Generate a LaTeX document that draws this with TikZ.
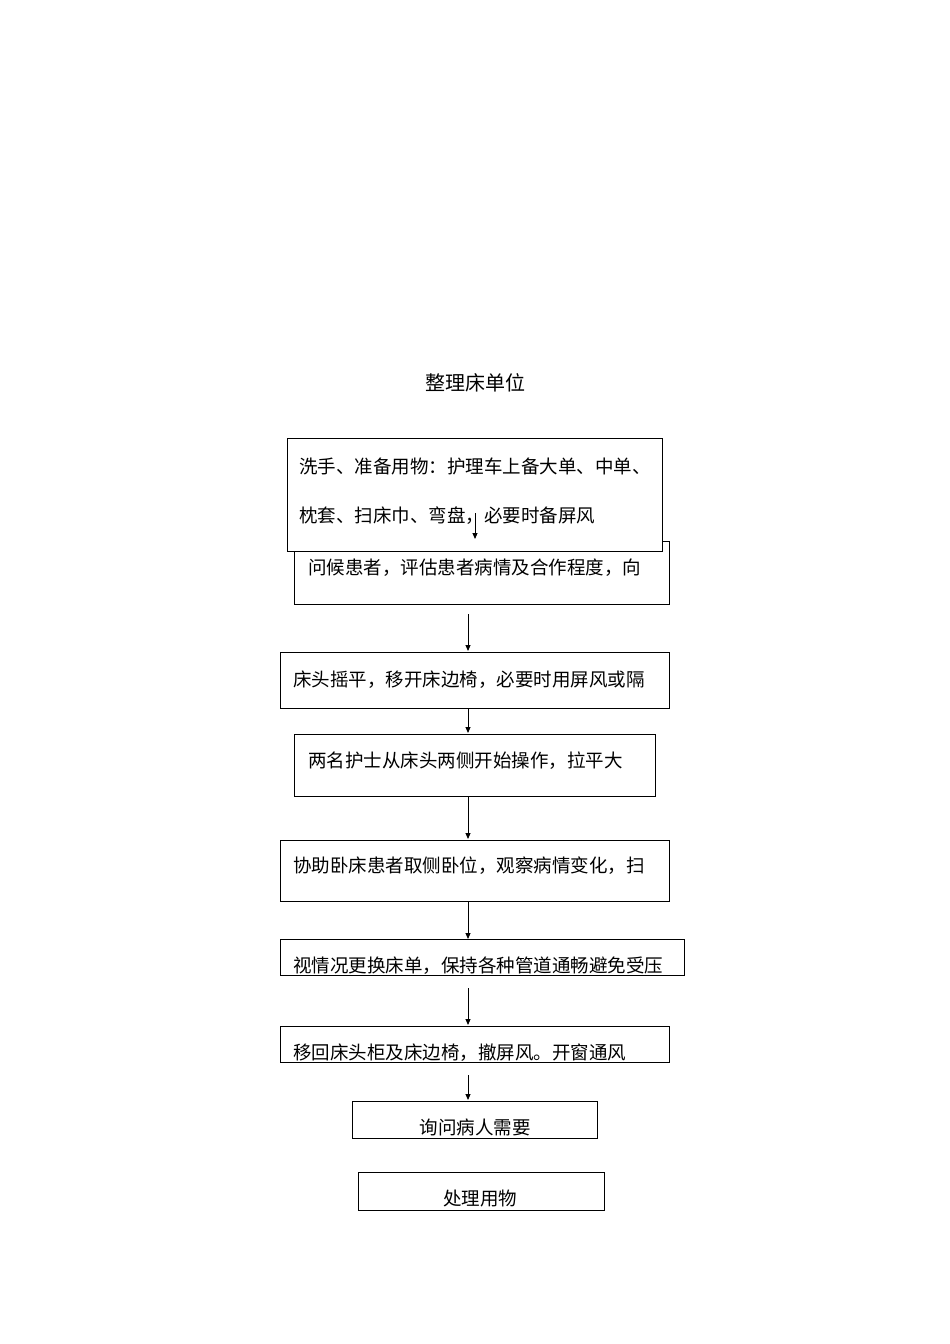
\documentclass[tikz,border=0pt]{standalone}
\usepackage{fontspec}
\newfontfamily\cjk{Noto Sans CJK SC}
\usetikzlibrary{arrows.meta}
\begin{document}
\begin{tikzpicture}[x=1pt,y=-1pt,
  bx/.style={draw,line width=0.8pt,fill=white},
  tx/.style={font=\cjk\fontsize{18.5}{20}\selectfont,anchor=west,inner sep=0},
  ar/.style={-{Triangle[length=6pt,width=5pt]},line width=0.9pt}]
\useasboundingbox (0,0) rectangle (950,1344);
\node[font=\cjk\fontsize{20}{22}\selectfont] (title) at (475,383) {整理床单位};
\draw[bx] (294,541) rectangle (669,604);
\node[tx] (t2) at (308,568) {问候患者，评估患者病情及合作程度，向};
\draw[bx] (287,438) rectangle (662,551);
\node[tx] (t1a) at (299,466) {洗手、准备用物：护理车上备大单、中单、};
\node[tx] (t1b) at (299,516) {枕套、扫床巾、弯盘，必要时备屏风};
\coordinate (a1) at (475,513); \coordinate (a1e) at (475,539);
\draw[ar] (a1) -- (a1e);
\draw[bx] (280,652) rectangle (669,708);
\node[tx] (t3) at (293,680) {床头摇平，移开床边椅，必要时用屏风或隔};
\draw[bx] (294,734) rectangle (655,796);
\node[tx] (t4) at (308,761) {两名护士从床头两侧开始操作，拉平大};
\draw[bx] (280,840) rectangle (669,901);
\node[tx] (t5) at (293,866) {协助卧床患者取侧卧位，观察病情变化，扫};
\draw[bx] (280,939) rectangle (684,975);
\node[tx] (t6) at (293,966) {视情况更换床单，保持各种管道通畅避免受压};
\draw[bx] (280,1026) rectangle (669,1062);
\node[tx] (t7) at (293,1053) {移回床头柜及床边椅，撤屏风。开窗通风};
\draw[bx] (352,1101) rectangle (597,1138);
\node[tx,anchor=center] (t8) at (475,1127) {询问病人需要};
\draw[bx] (358,1172) rectangle (604,1210);
\node[tx,anchor=center] (t9) at (480,1199) {处理用物};
\foreach \a/\b in {614/651,708/733,796/839,901/939,988/1025,1075/1100}{
  \coordinate (s) at (468,\a); \coordinate (e) at (468,\b);
  \draw[ar] (s) -- (e);}
\end{tikzpicture}
\end{document}
